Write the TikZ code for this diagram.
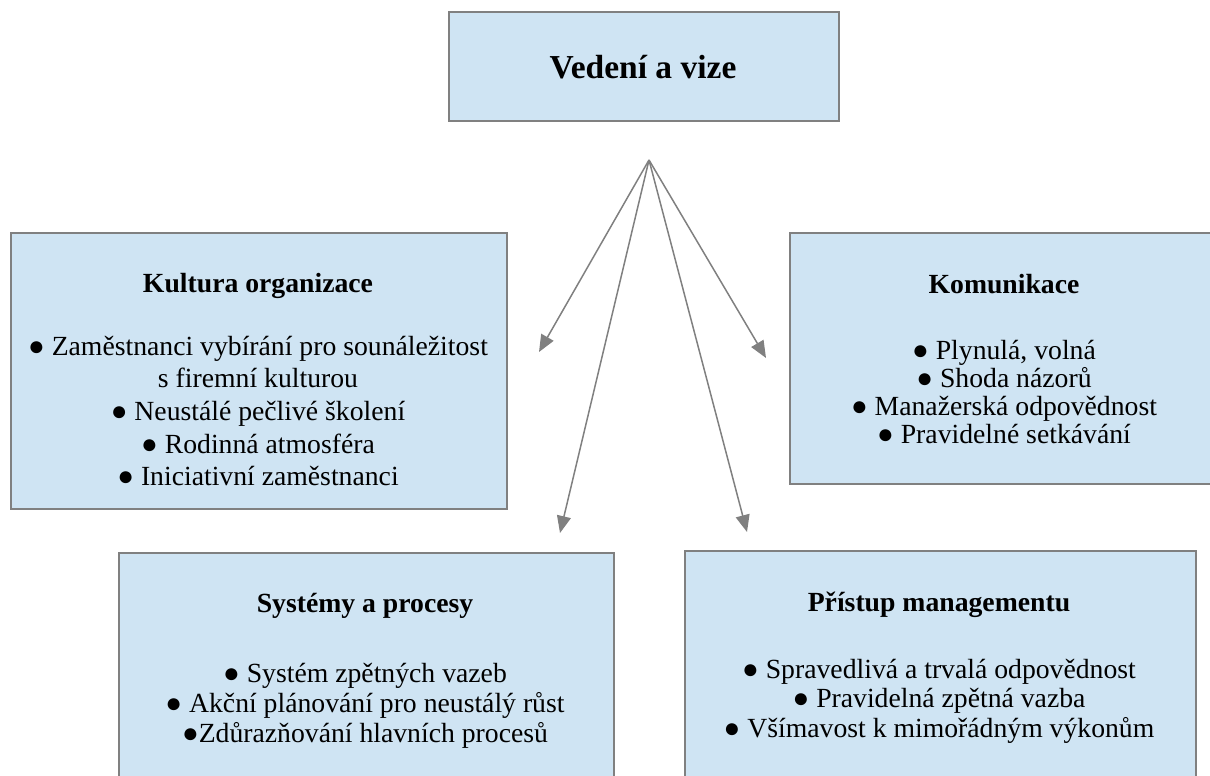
\documentclass[tikz,border=0pt]{standalone}
\usepackage{fontspec}
\setmainfont{Liberation Serif}
\usetikzlibrary{arrows.meta}
\definecolor{boxfill}{HTML}{CFE4F3}
\definecolor{boxline}{HTML}{808080}
\begin{document}
\begin{tikzpicture}[x=1pt,y=-1pt,
  panel/.style={draw=boxline, line width=2pt, fill=boxfill, inner sep=0pt, anchor=north west},
  headtext/.style={anchor=base, inner sep=0pt, font=\fontsize{33.5}{36}\selectfont\bfseries},
  titletext/.style={anchor=base, inner sep=0pt, font=\fontsize{27.7}{30}\selectfont\bfseries},
  itemtext/.style={anchor=base, inner sep=0pt, font=\fontsize{27.7}{30}\selectfont},
  link/.style={draw=boxline, line width=1.5pt, -{Triangle[length=17pt,width=14pt]}}
]
\useasboundingbox (0,0) rectangle (1210,776);
\clip (0,0) rectangle (1210,776);

% boxes
\node[panel, minimum width=390pt, minimum height=109pt] (vedeni) at (448,11) {};
\node[panel, minimum width=496pt, minimum height=276pt] (kultura) at (10,232) {};
\node[panel, minimum width=430pt, minimum height=251pt] (komunikace) at (789,232) {};
\node[panel, minimum width=495pt, minimum height=250pt] (systemy) at (118,552) {};
\node[panel, minimum width=511pt, minimum height=250pt] (pristup) at (684,550) {};

% texts
\node[headtext] (vedeniT) at (643,78) {Vedení a vize};

\node[titletext] (kulturaT) at (258,292) {Kultura organizace};
\node[itemtext] (k1) at (258,355) {● Zaměstnanci vybírání pro sounáležitost};
\node[itemtext] (k2) at (258,387) {s firemní kulturou};
\node[itemtext] (k3) at (258,420) {● Neustálé pečlivé školení};
\node[itemtext] (k4) at (258,453) {● Rodinná atmosféra};
\node[itemtext] (k5) at (258,485) {● Iniciativní zaměstnanci};

\node[titletext] (komT) at (1004,293) {Komunikace};
\node[itemtext] (m1) at (1004,359) {● Plynulá, volná};
\node[itemtext] (m2) at (1004,387) {● Shoda názorů};
\node[itemtext] (m3) at (1004,415) {● Manažerská odpovědnost};
\node[itemtext] (m4) at (1004,443) {● Pravidelné setkávání};

\node[titletext] (sysT) at (365,612) {Systémy a procesy};
\node[itemtext] (s1) at (365,682) {● Systém zpětných vazeb};
\node[itemtext] (s2) at (365,712) {● Akční plánování pro neustálý růst};
\node[itemtext] (s3) at (365,742) {●Zdůrazňování hlavních procesů};

\node[titletext] (priT) at (939,611) {Přístup managementu};
\node[itemtext] (p1) at (939,678) {● Spravedlivá a trvalá odpovědnost};
\node[itemtext] (p2) at (939,707) {● Pravidelná zpětná vazba};
\node[itemtext] (p3) at (939,737) {● Všímavost k mimořádným výkonům};

% connectors
\coordinate (hub) at (649,160);
\coordinate (tipK) at (539,352);
\coordinate (tipM) at (766,358);
\coordinate (tipS) at (560,533);
\coordinate (tipP) at (747,532);
\draw[link] (hub) -- (tipK);
\draw[link] (hub) -- (tipM);
\draw[link] (hub) -- (tipS);
\draw[link] (hub) -- (tipP);
\end{tikzpicture}
\end{document}
